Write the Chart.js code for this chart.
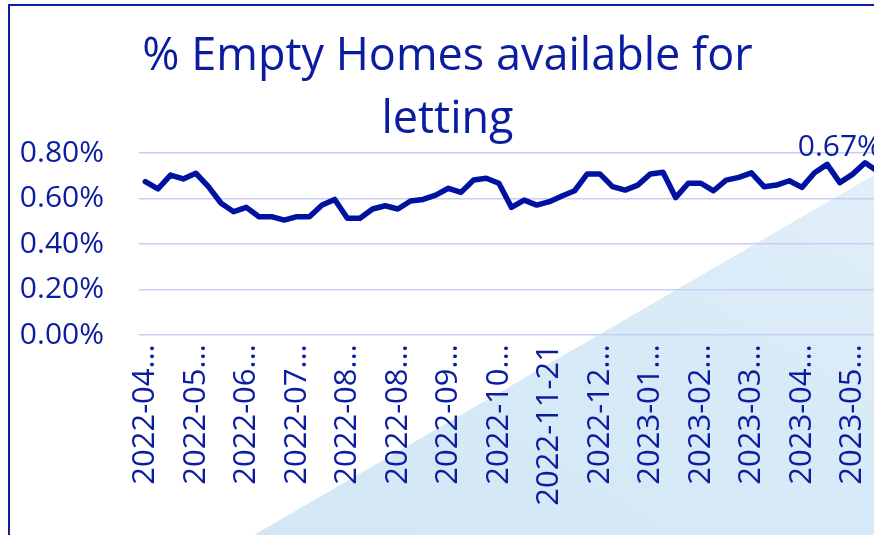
<!DOCTYPE html>
<html lang="en">
<head>
  <meta charset="UTF-8" />
  <title>% Empty Homes available for letting</title>
  <script src="https://cdn.jsdelivr.net/npm/chart.js"></script>
  <style>
    html, body {
      margin: 0;
      width: 874px;
      height: 535px;
      overflow: hidden;
      background: #fff;
      font-family: "Open Sans", sans-serif;
    }
    /* light blue wedge in the lower right corner */
    .wedge {
      position: absolute;
      left: 0; top: 0;
      width: 900px; height: 535px;
      background: linear-gradient(to top right, #d1e6f5 0%, #d8eaf7 55%, #e6f2fa 100%);
      clip-path: polygon(254px 535px, 900px 160px, 900px 535px);
    }
    .frame {
      position: absolute;
      left: 8px; top: 4px;
      width: 900px; height: 540px;
      border-left: 2px solid #0a1ca0;
      border-top: 2px solid #0a1ca0;
    }
    .chart-box {
      position: absolute;
      left: 11px; top: 6px;
      width: 873px; height: 529px;
    }
  </style>
</head>
<body>
  <div class="wedge"></div>
  <div class="frame"></div>
  <div class="chart-box">
    <canvas id="chart"></canvas>
  </div>

  <script>
    // weekly snapshots
    const weeks = [
      '2022-04-11', '2022-04-18', '2022-04-25', '2022-05-02', '2022-05-09', '2022-05-16',
      '2022-05-23', '2022-05-30', '2022-06-06', '2022-06-13', '2022-06-20', '2022-06-27',
      '2022-07-04', '2022-07-11', '2022-07-18', '2022-07-25', '2022-08-01', '2022-08-08',
      '2022-08-15', '2022-08-22', '2022-08-29', '2022-09-05', '2022-09-12', '2022-09-19',
      '2022-09-26', '2022-10-03', '2022-10-10', '2022-10-17', '2022-10-24', '2022-10-31',
      '2022-11-07', '2022-11-14', '2022-11-21', '2022-11-28', '2022-12-05', '2022-12-12',
      '2022-12-19', '2022-12-26', '2023-01-02', '2023-01-09', '2023-01-16', '2023-01-23',
      '2023-01-30', '2023-02-06', '2023-02-13', '2023-02-20', '2023-02-27', '2023-03-06',
      '2023-03-13', '2023-03-20', '2023-03-27', '2023-04-03', '2023-04-10', '2023-04-17',
      '2023-04-24', '2023-05-01', '2023-05-08', '2023-05-15', '2023-05-22'
    ];

    // % of empty homes available for letting
    const emptyPct = [
      0.674, 0.642, 0.703, 0.686, 0.711, 0.652, 0.579, 0.542, 0.561, 0.520,
      0.520, 0.505, 0.520, 0.520, 0.571, 0.596, 0.513, 0.513, 0.554, 0.568,
      0.554, 0.589, 0.596, 0.615, 0.645, 0.627, 0.681, 0.689, 0.667, 0.561,
      0.593, 0.571, 0.586, 0.611, 0.634, 0.708, 0.708, 0.652, 0.637, 0.659,
      0.708, 0.715, 0.604, 0.667, 0.667, 0.634, 0.681, 0.693, 0.713, 0.652,
      0.659, 0.678, 0.649, 0.713, 0.750, 0.670, 0.706, 0.757, 0.720
    ];

    // x labels as shown (every 4th week, most cut short)
    const tickLabels = [
      '2022-04...', '2022-05...', '2022-06...', '2022-07...', '2022-08...',
      '2022-08...', '2022-09...', '2022-10...', '2022-11-21', '2022-12...',
      '2023-01...', '2023-02...', '2023-03...', '2023-04...', '2023-05...'
    ];
    const labelEvery = 4;

    const yTicks = [0, 0.2, 0.4, 0.6, 0.8];

    // the one point carrying a data label
    const labelledIndex = 55;

    const navy = '#0b1ca0';
    const lineColor = '#0012a0';
    const gridColor = '#c9cdf7';

    const pointLabel = {
      id: 'pointLabel',
      afterDatasetsDraw(chart) {
        const pt = chart.getDatasetMeta(0).data[labelledIndex];
        const ctx = chart.ctx;
        ctx.save();
        ctx.font = '30px "Open Sans"';
        ctx.fillStyle = navy;
        ctx.textAlign = 'center';
        ctx.textBaseline = 'bottom';
        ctx.fillText(emptyPct[labelledIndex].toFixed(2) + '%', pt.x, pt.y - 20);
        ctx.restore();
      }
    };

    new Chart(document.getElementById('chart'), {
      type: 'line',
      data: {
        labels: weeks,
        datasets: [{
          data: emptyPct,
          borderColor: lineColor,
          borderWidth: 5.5,
          borderJoinStyle: 'round',
          borderCapStyle: 'round',
          pointRadius: 0,
          tension: 0,
          fill: false
        }]
      },
      options: {
        responsive: true,
        maintainAspectRatio: false,
        animation: false,
        layout: { padding: 0 },
        plugins: {
          legend: { display: false },
          tooltip: { enabled: false },
          title: {
            display: true,
            text: ['% Empty Homes available for', 'letting'],
            color: navy,
            font: { family: 'Open Sans', size: 45, weight: 'normal', lineHeight: 1.4 },
            padding: { top: 20, bottom: 1 }
          }
        },
        scales: {
          x: {
            offset: true,
            grid: { display: false },
            border: { display: false },
            ticks: {
              autoSkip: false,
              maxRotation: 90,
              minRotation: 90,
              padding: 1,
              color: navy,
              font: { family: 'Open Sans', size: 31 },
              callback: (v, i) => (i % labelEvery === 0 ? tickLabels[i / labelEvery] : '')
            },
            afterFit: s => {
              s.height = 200;
              s.paddingLeft = 0;
              s.paddingRight = 0;
            }
          },
          y: {
            min: 0,
            max: 0.8,
            grid: { color: gridColor, lineWidth: 1.6, drawTicks: false },
            border: { display: false },
            afterBuildTicks: s => { s.ticks = yTicks.map(v => ({ value: v })); },
            ticks: {
              padding: 35,
              color: navy,
              font: { family: 'Open Sans', size: 30 },
              callback: v => v.toFixed(2) + '%'
            },
            afterFit: s => { s.width = 128; }
          }
        }
      },
      plugins: [pointLabel]
    });
  </script>
</body>
</html>
